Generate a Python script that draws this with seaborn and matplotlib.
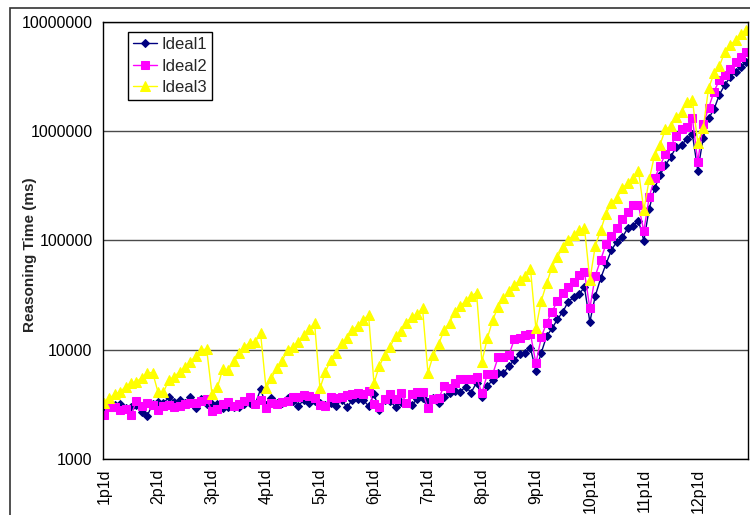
import numpy as np
import pandas as pd
import matplotlib
matplotlib.use("Agg")
import matplotlib.pyplot as plt
from matplotlib.patches import Rectangle
from matplotlib.ticker import FuncFormatter, LogLocator, NullLocator
import seaborn as sns

# Problem sizes: p = processes, d = depth
categories = [f"{p}p{d}d" for p in range(1, 13) for d in range(1, 11)]
tick_labels = [f"{p}p1d" for p in range(1, 13)]

ideal1 = [
    3060, 3190, 3120, 3190, 2900, 3010, 3150, 2720, 2490, 3190,
    3300, 3250, 3670, 3350, 3470, 3230, 3670, 2920, 3520, 3190,
    3190, 3190, 2920, 3010, 2970, 2970, 3190, 3230, 3190, 4350,
    3120, 3590, 3230, 3280, 3590, 3410, 3060, 3470, 3280, 3410,
    3230, 3100, 3230, 3060, 3470, 2970, 3470, 3520, 3470, 3060,
    3940, 2810, 3470, 3410, 2970, 3350, 3280, 3120, 3520, 3640,
    3350, 3590, 3280, 3670, 4050, 4220, 4130, 4590, 4050, 5000,
    3670, 4660, 5280, 6090, 6090, 7100, 8050, 9110, 9270, 10300,
    6420, 9400, 13370, 15700, 19000, 22300, 27600, 30100, 32400, 37200,
    18000, 31000, 45000, 61000, 81800, 97600, 106600, 129000, 135000, 152000,
    99700, 196000, 300000, 398000, 490000, 585000, 717000, 754000, 846000, 935000,
    436000, 870000, 1310000, 1590000, 2160000, 2660000, 3120000, 3510000, 3910000, 4260000,
]

ideal2 = [
    2530, 2970, 3010, 2810, 2880, 2530, 3410, 3060, 3280, 3120,
    2810, 3060, 3100, 3010, 3060, 3190, 3230, 3280, 3410, 3520,
    2750, 2850, 3190, 3320, 3080, 3170, 3410, 3670, 3190, 3470,
    2920, 3280, 3190, 3300, 3410, 3720, 3720, 3850, 3770, 3600,
    3120, 3060, 3670, 3590, 3720, 3850, 3940, 4000, 3910, 4190,
    3190, 3010, 3520, 3910, 3520, 4000, 3280, 3910, 4130, 4130,
    2920, 3520, 3590, 4660, 4430, 4940, 5360, 5360, 5360, 5660,
    4000, 5990, 5990, 8520, 8650, 8950, 12450, 12700, 13700, 14000,
    7500, 13000, 17700, 22300, 28100, 33300, 37200, 41970, 48800, 51200,
    23900, 47500, 66300, 93000, 110000, 129000, 158000, 183000, 210000, 210000,
    122000, 251000, 370000, 482000, 618000, 736000, 907000, 1040000, 1090000, 1310000,
    527000, 1160000, 1630000, 2310000, 2930000, 3300000, 3740000, 4260000, 4780000, 5330000,
]

ideal3 = [
    3230, 3600, 3940, 4130, 4590, 4990, 5100, 5550, 6170, 6170,
    4080, 4080, 5290, 5670, 6300, 7000, 7780, 8770, 9950, 10160,
    3900, 4530, 6700, 6500, 7950, 9300, 10650, 11600, 11850, 14100,
    4430, 5470, 6850, 7950, 9950, 10650, 11850, 13700, 15400, 17500,
    4430, 6300, 8050, 9270, 11460, 12730, 15170, 16600, 18720, 20800,
    4940, 7100, 8950, 10650, 13370, 14960, 17700, 20100, 21200, 23900,
    6170, 8950, 11300, 15170, 17700, 22300, 25170, 28100, 31040, 33300,
    7780, 12700, 18700, 24800, 29500, 34700, 39000, 43500, 47500, 55000,
    15700, 28100, 40500, 57600, 71000, 86700, 101000, 112000, 124000, 131000,
    43500, 89000, 124000, 176000, 222000, 243000, 300000, 334000, 372000, 436000,
    190000, 362000, 607000, 754000, 1040000, 1110000, 1340000, 1500000, 1840000, 1920000,
    788000, 1070000, 2480000, 3380000, 3940000, 5330000, 6140000, 6850000, 7770000, 8440000,
]

series_names = ["Ideal1", "Ideal2", "Ideal3"]

sns.set_style("white")
plt.rcParams["font.family"] = ["Liberation Sans", "DejaVu Sans"]

positions = np.arange(len(categories))
df = pd.DataFrame({
    "pos": np.tile(positions, 3),
    "time": ideal1 + ideal2 + ideal3,
    "series": np.repeat(series_names, len(categories)),
})

fig = plt.figure(figsize=(7.5, 5.15), dpi=100)
ax = fig.add_axes([103 / 750, 1 - 459 / 515, 645 / 750, 437 / 515])

styles = {
    "Ideal1": dict(color="#000080", marker="D", ms=4.2),
    "Ideal2": dict(color="#FF00FF", marker="s", ms=6.0),
    "Ideal3": dict(color="#FFFF00", marker="^", ms=6.5),
}
for name in series_names:
    st = styles[name]
    sub = df[df["series"] == name]
    sns.lineplot(data=sub, x="pos", y="time", ax=ax, color=st["color"],
                 marker=st["marker"], markersize=st["ms"],
                 markeredgecolor=st["color"], markerfacecolor=st["color"],
                 linewidth=1.0, label=name, sort=False, estimator=None)

ax.set_yscale("log")
ax.set_ylim(1000, 1e7)
ax.set_xlim(-0.2, 119.3)
ax.yaxis.set_major_locator(LogLocator(base=10))
ax.yaxis.set_minor_locator(NullLocator())
ax.yaxis.set_major_formatter(FuncFormatter(lambda v, _: f"{int(round(v))}"))
ax.set_xticks(positions[::10])
ax.set_xticklabels(tick_labels, rotation=90)

ax.grid(axis="y", which="major", color="#4a4a4a", linewidth=1.0)
ax.grid(axis="x", visible=False)
for sp in ax.spines.values():
    sp.set_color("black")
    sp.set_linewidth(1.0)

ax.tick_params(axis="both", which="major", direction="out", length=4,
               width=1, color="black", labelsize=11.5, labelcolor="black")
ax.tick_params(axis="x", pad=3)
ax.set_xlabel("")
ax.set_ylabel("Reasoning Time (ms)", fontsize=11, fontweight="bold")
ax.yaxis.set_label_coords((37 - 103) / 645, (459 - 255) / 437)

leg = ax.legend(loc="upper left", bbox_to_anchor=(25 / 645, 1 - 10 / 437),
                fontsize=12, frameon=True, fancybox=False, framealpha=1,
                edgecolor="black", handlelength=1.45, handletextpad=0.25,
                borderpad=0.3, labelspacing=0.4, borderaxespad=0)
leg.get_frame().set_linewidth(1.0)

# outer chart frame
fig.patches.append(Rectangle((10 / 750, -0.5), 2.0, 0.5 + (1 - 8 / 515),
                             transform=fig.transFigure, fill=False,
                             edgecolor="#333333", linewidth=1.2, zorder=-1))

fig.savefig("out.png", dpi=100)
